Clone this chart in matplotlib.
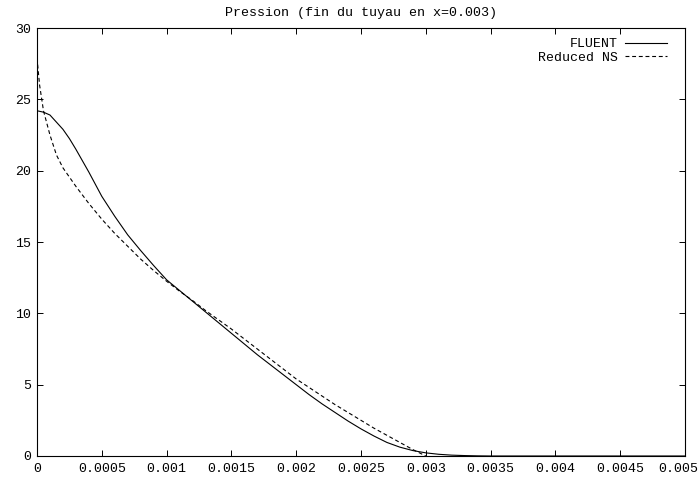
import matplotlib
matplotlib.use("Agg")
import matplotlib.pyplot as plt
from matplotlib.transforms import ScaledTranslation

# FLUENT pressure along the pipe
x_fluent = [0, 0.00005, 0.0001, 0.00015, 0.0002, 0.00025, 0.0003, 0.0004, 0.0005,
            0.0006, 0.0007, 0.0008, 0.0009, 0.001, 0.0011, 0.0012, 0.0013, 0.0014,
            0.0015, 0.0016, 0.0017, 0.0018, 0.0019, 0.002, 0.0021, 0.0022, 0.0023,
            0.0024, 0.0025, 0.0026, 0.0027, 0.0028, 0.0029, 0.003, 0.0031, 0.0032,
            0.0033, 0.0034, 0.0035, 0.004, 0.0045, 0.005]
p_fluent = [24.2, 24.1, 23.9, 23.4, 22.9, 22.25, 21.5, 19.9, 18.2,
            16.8, 15.5, 14.4, 13.35, 12.35, 11.6, 10.85, 10.1, 9.35,
            8.6, 7.85, 7.1, 6.4, 5.7, 5.0, 4.3, 3.65, 3.05,
            2.45, 1.9, 1.4, 0.95, 0.62, 0.38, 0.22, 0.12, 0.06,
            0.03, 0.01, 0.0, 0.0, 0.0, 0.0]

# reduced Navier-Stokes model
x_rns = [0, 0.00002, 0.00005, 0.0001, 0.00015, 0.0002, 0.0003, 0.0004, 0.0005,
         0.0006, 0.0007, 0.0008, 0.0009, 0.001, 0.0011, 0.0012, 0.0013, 0.0014,
         0.0015, 0.0016, 0.0017, 0.0018, 0.0019, 0.002, 0.0021, 0.0022, 0.0023,
         0.0024, 0.0025, 0.0026, 0.0027, 0.0028, 0.0029, 0.003]
p_rns = [27.9, 26.0, 24.2, 22.5, 21.1, 20.2, 18.9, 17.7, 16.6,
         15.6, 14.7, 13.8, 13.0, 12.25, 11.55, 10.9, 10.2, 9.55,
         8.9, 8.2, 7.5, 6.8, 6.1, 5.4, 4.8, 4.2, 3.6,
         3.05, 2.5, 1.95, 1.45, 0.95, 0.45, 0.0]

xticks = [0, 0.0005, 0.001, 0.0015, 0.002, 0.0025, 0.003, 0.0035, 0.004, 0.0045, 0.005]
xlabels = ["0", "0.0005", "0.001", "0.0015", "0.002", "0.0025", "0.003",
           "0.0035", "0.004", "0.0045", "0.005"]
yticks = [0, 5, 10, 15, 20, 25, 30]

plt.rcParams['font.family'] = ['Liberation Mono', 'DejaVu Sans Mono']
plt.rcParams['font.size'] = 9.5

fig = plt.figure(figsize=(6.99, 4.79), dpi=100)
ax = fig.add_axes([37 / 699, 23 / 479, 648 / 699, 428 / 479])

ax.plot(x_fluent, p_fluent, color='black', lw=0.8, label='FLUENT')
ax.plot(x_rns, p_rns, color='black', lw=0.8, dashes=(3.5, 2.5), label='Reduced NS')

ax.set_xlim(0, 0.005)
ax.set_ylim(0, 30)
ax.set_xticks(xticks)
ax.set_xticklabels(xlabels)
ax.set_yticks(yticks)
ax.tick_params(direction='in', length=4, width=0.7, top=True, right=True, pad=4)
ax.tick_params(axis='x', pad=5)
for s in ax.spines.values():
    s.set_linewidth(0.8)

# last label sits against the right edge of the image, as in the original
last = ax.get_xticklabels()[-1]
last.set_horizontalalignment('right')
last.set_transform(last.get_transform() + ScaledTranslation(13 / 100, 0, fig.dpi_scale_trans))

ax.set_title("Pression (fin du tuyau en x=0.003)", fontsize=9.6, pad=9)

ax.legend(loc='upper right', bbox_to_anchor=(0.982, 0.992), frameon=False,
          markerfirst=False, handlelength=3.2, handletextpad=0.5,
          labelspacing=0.1, borderaxespad=0.1)

fig.savefig("out.png", dpi=100)
